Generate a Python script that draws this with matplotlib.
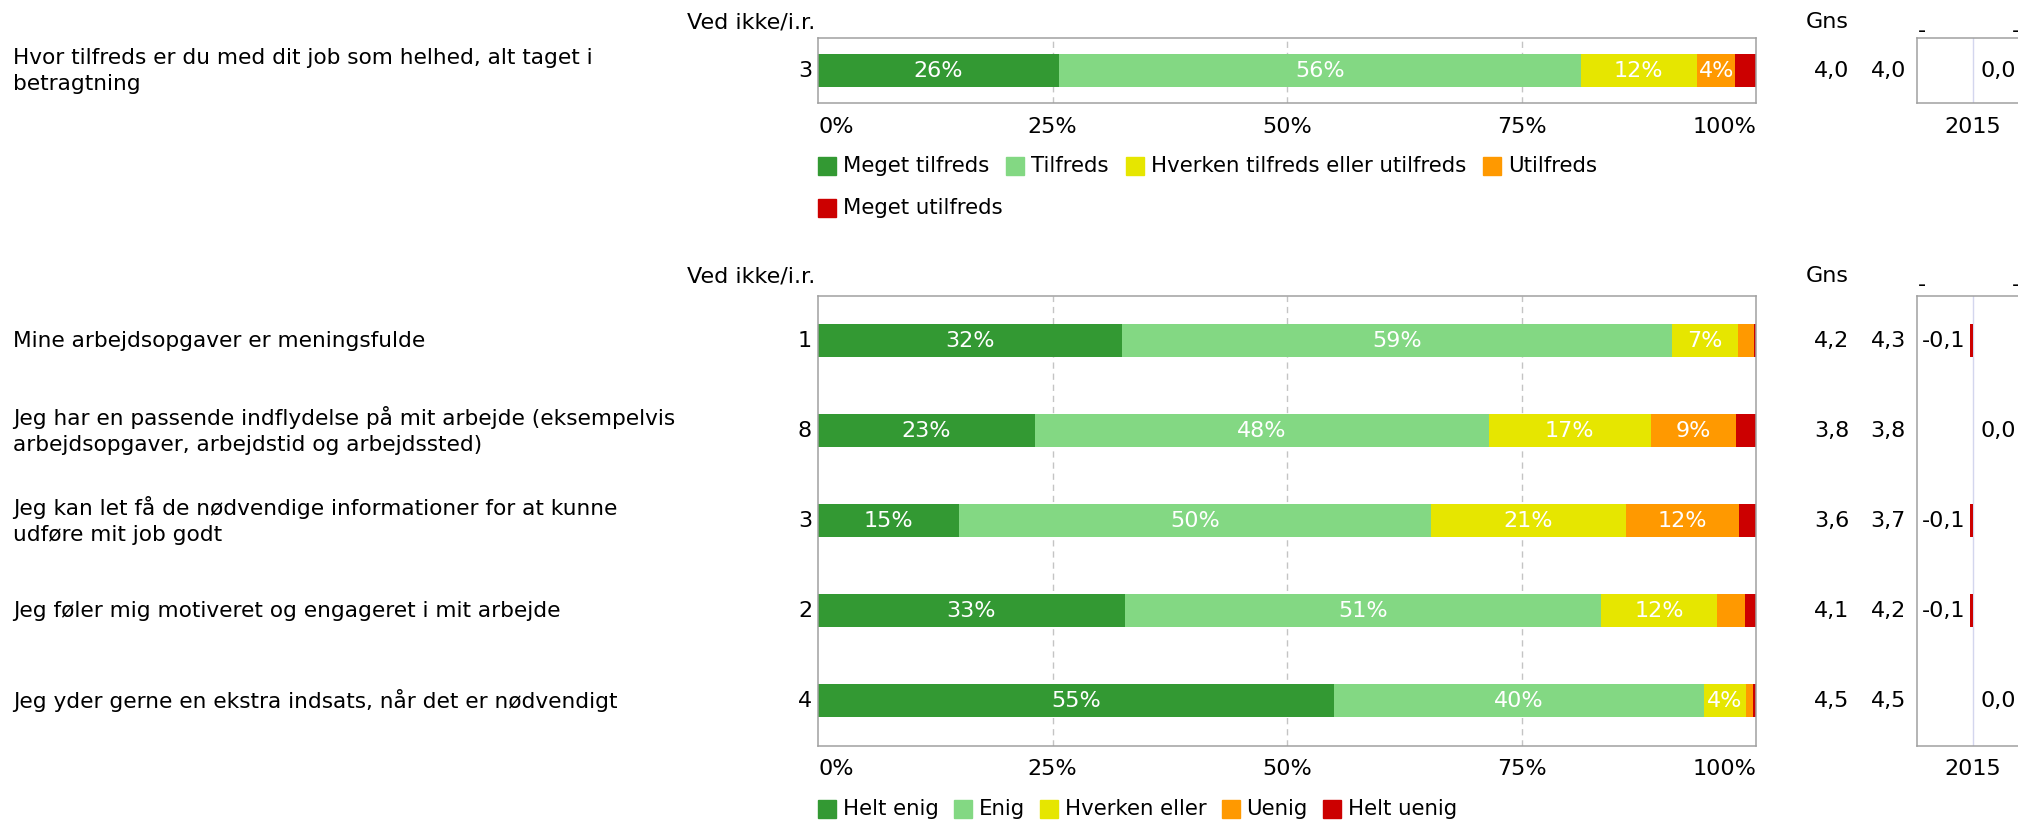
import matplotlib
matplotlib.use("Agg")
import matplotlib.pyplot as plt
from matplotlib.patches import Rectangle
from matplotlib.transforms import blended_transform_factory as btf

plt.rcParams['font.family'] = ['DejaVu Sans']

# ---------------- data ----------------
q_top = ["Hvor tilfreds er du med dit job som helhed, alt taget i\nbetragtning"]
legend_top = ["Meget tilfreds", "Tilfreds", "Hverken tilfreds eller utilfreds", "Utilfreds", "Meget utilfreds"]
vals_top = [[25.7], [55.6], [12.4], [4.1], [2.2]]
vedikke_top = [3]
gns_top = [4.0]
gns_prev_top = [4.0]
diff_top = [0.0]

q_bot = [
    "Mine arbejdsopgaver er meningsfulde",
    "Jeg har en passende indflydelse på mit arbejde (eksempelvis\narbejdsopgaver, arbejdstid og arbejdssted)",
    "Jeg kan let få de nødvendige informationer for at kunne\nudføre mit job godt",
    "Jeg føler mig motiveret og engageret i mit arbejde",
    "Jeg yder gerne en ekstra indsats, når det er nødvendigt",
]
legend_bot = ["Helt enig", "Enig", "Hverken eller", "Uenig", "Helt uenig"]
helt_enig = [32.4, 23.1, 15.0, 32.7, 55.0]
enig = [58.6, 48.4, 50.4, 50.8, 39.5]
hverken = [7.1, 17.3, 20.7, 12.3, 4.4]
uenig = [1.7, 9.1, 12.1, 3.0, 0.8]
helt_uenig = [0.2, 2.1, 1.8, 1.2, 0.3]
vals_bot = [helt_enig, enig, hverken, uenig, helt_uenig]
vedikke_bot = [1, 8, 3, 2, 4]
gns_bot = [4.2, 3.8, 3.6, 4.1, 4.5]
gns_prev_bot = [4.3, 3.8, 3.7, 4.2, 4.5]
diff_bot = [-0.1, 0.0, -0.1, -0.1, 0.0]

xticks = [0, 25, 50, 75, 100]
xticklabels = ["0%", "25%", "50%", "75%", "100%"]
year_label = "2015"

colors = ["#339933", "#83d883", "#e6e600", "#ff9900", "#cc0000"]

# ---------------- layout helpers ----------------
W, H = 2018, 821
fig = plt.figure(figsize=(W / 100, H / 100), dpi=100)
FS = 16
FS_Q = 15.6
FS_LEG = 15.3
EDGE = "#a0a0a0"


def rect(x0, y0, x1, y1):
    return [x0 / W, 1 - y1 / H, (x1 - x0) / W, (y1 - y0) / H]


def fx(x):
    return x / W


def fy(y):
    return 1 - y / H


def fmt(v):
    return f"{v:.1f}".replace(".", ",")


def style_box(ax):
    for s in ax.spines.values():
        s.set_color(EDGE)
        s.set_linewidth(1.1)


def draw_block(y_top, y_bot, questions, vals, vedikke, gns, gns_prev, diff, bar_h):
    n = len(questions)
    ax = fig.add_axes(rect(818, y_top, 1756, y_bot))
    style_box(ax)
    ax.set_xlim(0, 100)
    ax.set_ylim(n - 0.5, -0.5)
    for g in [25, 50, 75]:
        ax.axvline(g, color="#c4c4c4", lw=1.0, dashes=(4.5, 3.5), zorder=0)
    ypos = list(range(n))
    left = [0.0] * n
    for k, series in enumerate(vals):
        ax.barh(ypos, series, left=left, height=bar_h, color=colors[k], zorder=2)
        for i, v in enumerate(series):
            if v >= 3.5:
                ax.text(left[i] + v / 2, i, f"{round(v)}%", color="white", fontsize=FS,
                        ha="center", va="center", zorder=3)
        left = [a + b for a, b in zip(left, series)]
    ax.set_yticks([])
    ax.set_xticks(xticks)
    tl = ax.set_xticklabels(xticklabels, fontsize=FS)
    tl[0].set_ha("left")
    tl[-1].set_ha("right")
    ax.tick_params(axis="x", length=0, pad=10)

    tr = btf(fig.transFigure, ax.transData)
    for i in range(n):
        ax.text(fx(13), i, questions[i], transform=tr, ha="left", va="center",
                fontsize=FS_Q, linespacing=1.4)
        ax.text(fx(812), i, str(vedikke[i]), transform=tr, ha="right", va="center", fontsize=FS)
        ax.text(fx(1849), i, fmt(gns[i]), transform=tr, ha="right", va="center", fontsize=FS)
        ax.text(fx(1906), i, fmt(gns_prev[i]), transform=tr, ha="right", va="center", fontsize=FS)

    # diff panel
    axd = fig.add_axes(rect(1917, y_top, 2029, y_bot))
    style_box(axd)
    axd.set_xlim(-2, 2)
    axd.set_ylim(n - 0.5, -0.5)
    axd.axvline(0, color="#d4d6ee", lw=1.0, zorder=1)
    axd.barh(ypos, diff, height=bar_h, color="#cc0000", zorder=2)
    axd.set_yticks([])
    axd.set_xticks([0])
    axd.set_xticklabels([year_label], fontsize=FS)
    axd.tick_params(axis="x", length=0, pad=10)
    trd = btf(fig.transFigure, axd.transData)
    for i, d in enumerate(diff):
        if d < 0:
            axd.text(fx(1965), i, fmt(d), transform=trd, ha="right", va="center", fontsize=FS)
        else:
            axd.text(fx(1980), i, fmt(d), transform=trd, ha="left", va="center", fontsize=FS)
    return ax


def headers(y):
    fig.text(fx(815), fy(y), "Ved ikke/i.r.", ha="right", va="center", fontsize=FS)
    fig.text(fx(1849), fy(y), "Gns", ha="right", va="center", fontsize=FS)
    fig.text(fx(1922), fy(y + 9), "-", ha="center", va="center", fontsize=FS)
    fig.text(fx(2016), fy(y + 9), "-", ha="center", va="center", fontsize=FS)


renderer = fig.canvas.get_renderer()


def legend(labels, y, row_gap, x_max, gap):
    x = 818
    for k, lab in enumerate(labels):
        t = fig.text(0, 0, lab, fontsize=FS_LEG, ha="left", va="center")
        w = t.get_window_extent(renderer).width
        if x + 25 + w > x_max and x > 818:
            x = 818
            y += row_gap
        fig.patches.append(Rectangle((fx(x), fy(y + 9)), 18 / W, 18 / H,
                                     transform=fig.transFigure, color=colors[k]))
        t.set_position((fx(x + 25), fy(y)))
        x = x + 25 + w + gap


headers(22)
draw_block(38.5, 103, q_top, vals_top, vedikke_top, gns_top, gns_prev_top, diff_top, 33 / 65)
legend(legend_top, 166, 42, 1756, 17)

headers(276)
draw_block(295.5, 745.5, q_bot, vals_bot, vedikke_bot, gns_bot, gns_prev_bot, diff_bot, 33 / 90)
legend(legend_bot, 809, 42, 1756, 15)

fig.savefig("out.png", dpi=100)
